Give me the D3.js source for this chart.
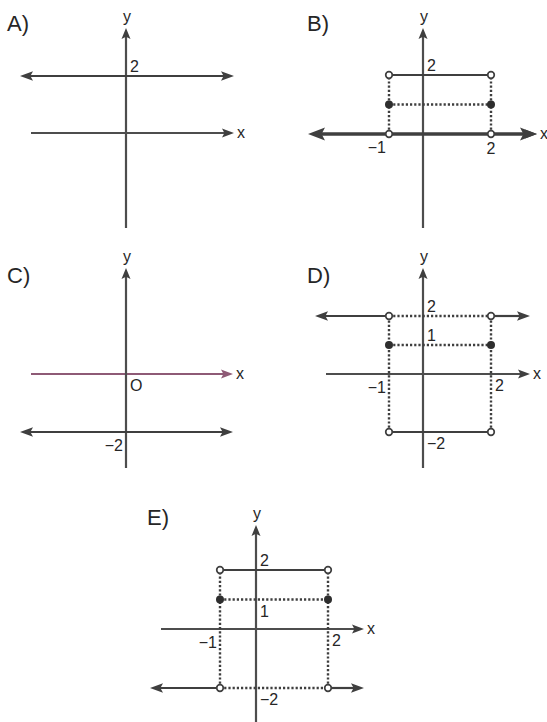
<!DOCTYPE html>
<html>
<head>
<meta charset="utf-8">
<script src="https://cdn.jsdelivr.net/npm/d3@7"></script>
<style>
  body { margin: 0; background: #fff; }
  text { font-family: "Liberation Sans", Arial, sans-serif; fill: #262626; }
</style>
</head>
<body>
<svg id="chart" width="547" height="722"></svg>
<script>
///////  data (units of each small graph) ///////

var panelNames = ["A)", "B)", "C)", "D)", "E)"];

// segments [x1, y1, x2, y2]; +-Infinity runs to the edge and gets an arrow
var solidA = [[-Infinity, 2, Infinity, 2]];
var solidB = [[-1, 2, 2, 2]];
var solidC = [[-Infinity, -2, Infinity, -2]];
var solidD = [[-Infinity, 2, -1, 2], [2, 2, Infinity, 2], [-1, -2, 2, -2]];
var solidE = [[-1, 2, 2, 2], [-Infinity, -2, -1, -2], [2, -2, Infinity, -2]];

var boldB = [[-Infinity, 0, Infinity, 0]];

var dottedB = [[-1, 1, 2, 1], [-1, 0, -1, 2], [2, 0, 2, 2]];
var dottedD = [[-1, 2, 2, 2], [-1, 1, 2, 1], [-1, -2, -1, 2], [2, -2, 2, 2]];
var dottedE = [[-1, 1, 2, 1], [-1, -2, 2, -2], [-1, -2, -1, 2], [2, -2, 2, 2]];

var openB = [[-1, 2], [2, 2], [-1, 0], [2, 0]];
var openD = [[-1, 2], [2, 2], [-1, -2], [2, -2]];
var openE = [[-1, 2], [2, 2], [-1, -2], [2, -2]];

var filledB = [[-1, 1], [2, 1]];
var filledD = [[-1, 1], [2, 1]];
var filledE = [[-1, 1], [2, 1]];

// tick labels [text, x, y, side]
var ticksA = [["2", 0, 2, "ne"]];
var ticksB = [["2", 0, 2, "ne"], ["\u22121", -1, 0, "sw"], ["2", 2, 0, "s"]];
var ticksC = [["O", 0, 0, "se"], ["\u22122", 0, -2, "sw"]];
var ticksD = [["2", 0, 2, "ne"], ["1", 0, 1, "ne"], ["\u22121", -1, 0, "sw"], ["2", 2, 0, "se"], ["\u22122", 0, -2, "se"]];
var ticksE = [["2", 0, 2, "ne"], ["1", 0, 1, "se"], ["\u22121", -1, 0, "sw"], ["2", 2, 0, "se"], ["\u22122", 0, -2, "se"]];

///////  layout ///////

var panels = [
  {name: panelNames[0], lx: 7, ly: 31, ox: 126, oy: 133, ux: 34, uy: 28.5, left: 20, right: 234, top: 28, bottom: 228,
   solid: solidA, bold: [], dotted: [], open: [], filled: [], ticks: ticksA, axisColor: null},
  {name: panelNames[1], lx: 307, ly: 31, ox: 423, oy: 134, ux: 34, uy: 29.5, left: 308, right: 537, top: 28, bottom: 228,
   solid: solidB, bold: boldB, dotted: dottedB, open: openB, filled: filledB, ticks: ticksB, axisColor: null},
  {name: panelNames[2], lx: 7, ly: 283, ox: 126, oy: 374, ux: 34, uy: 29, left: 20, right: 233, top: 268, bottom: 468,
   solid: solidC, bold: [], dotted: [], open: [], filled: [], ticks: ticksC, axisColor: "#8e5a76"},
  {name: panelNames[3], lx: 307, ly: 283, ox: 423, oy: 374, ux: 34, uy: 29, left: 315, right: 530, top: 268, bottom: 468,
   solid: solidD, bold: [], dotted: dottedD, open: openD, filled: filledD, ticks: ticksD, axisColor: null},
  {name: panelNames[4], lx: 147, ly: 525, ox: 256, oy: 629, ux: 36, uy: 29.5, left: 150, right: 364, top: 525, bottom: 730,
   solid: solidE, bold: [], dotted: dottedE, open: openE, filled: filledE, ticks: ticksE, axisColor: null}
];

var ink = "#3f3f3f";
var axisInk = "#4d4d4d";
var svg = d3.select("#chart");

// filled triangle with its tip at (x, y) pointing along (dx, dy)
function arrow(g, x, y, dx, dy, len, half, color) {
  var px = -dy, py = dx;
  var pts = [[x, y],
    [x - dx * len + px * half, y - dy * len + py * half],
    [x - dx * len * 0.8, y - dy * len * 0.8],
    [x - dx * len - px * half, y - dy * len - py * half]];
  g.append("polygon")
    .attr("points", pts.map(function(p) { return p.join(","); }).join(" "))
    .attr("fill", color);
}

var tickOffset = {
  ne: {dx: 4, dy: -4, anchor: "start"},
  se: {dx: 4, dy: 17, anchor: "start"},
  sw: {dx: -3, dy: 19, anchor: "end"},
  s:  {dx: 0, dy: 20, anchor: "middle"}
};

panels.forEach(function(p) {
  var x = d3.scaleLinear().domain([0, 1]).range([p.ox, p.ox + p.ux]);
  var y = d3.scaleLinear().domain([0, 1]).range([p.oy, p.oy - p.uy]);
  var px = function(v) { return v === -Infinity ? p.left : v === Infinity ? p.right : x(v); };
  var axc = p.axisColor || axisInk;

  var g = svg.append("g");

  g.append("text")
    .attr("x", p.lx).attr("y", p.ly)
    .attr("font-size", "22px")
    .text(p.name);

  // x axis
  g.append("line")
    .attr("x1", p.left + 11).attr("x2", p.right - 8)
    .attr("y1", p.oy).attr("y2", p.oy)
    .attr("stroke", axc).attr("stroke-width", 2.2);
  arrow(g, p.right, p.oy, 1, 0, 12, 4.5, p.axisColor || ink);
  g.append("text")
    .attr("x", p.right + 3).attr("y", p.oy + 5)
    .attr("font-size", "16px")
    .text("x");

  // y axis
  g.append("line")
    .attr("x1", p.ox).attr("x2", p.ox)
    .attr("y1", p.top + 8).attr("y2", p.bottom)
    .attr("stroke", axisInk).attr("stroke-width", 2.2);
  arrow(g, p.ox, p.top, 0, -1, 11, 4.5, ink);
  g.append("text")
    .attr("x", p.ox + 1).attr("y", p.top - 6)
    .attr("text-anchor", "middle")
    .attr("font-size", "16px")
    .text("y");

  // dotted guides
  g.selectAll(null).data(p.dotted).enter().append("line")
    .attr("x1", function(d) { return px(d[0]); })
    .attr("y1", function(d) { return y(d[1]); })
    .attr("x2", function(d) { return px(d[2]); })
    .attr("y2", function(d) { return y(d[3]); })
    .attr("stroke", ink).attr("stroke-width", 2.4)
    .attr("stroke-dasharray", "2.2,2");

  // solid pieces of the graph
  function drawSolid(data, w, len, half) {
    data.forEach(function(d) {
      var x1 = px(d[0]), x2 = px(d[2]), y1 = y(d[1]), y2 = y(d[3]);
      var a = d[0] === -Infinity ? len - 3 : 0, b = d[2] === Infinity ? len - 3 : 0;
      g.append("line")
        .attr("x1", x1 + a).attr("y1", y1)
        .attr("x2", x2 - b).attr("y2", y2)
        .attr("stroke", ink).attr("stroke-width", w);
      if (d[0] === -Infinity) arrow(g, x1, y1, -1, 0, len, half, ink);
      if (d[2] === Infinity) arrow(g, x2, y2, 1, 0, len, half, ink);
    });
  }
  drawSolid(p.solid, 2.2, 13, 4.8);
  drawSolid(p.bold, 3.5, 17, 6.5);

  // end points
  g.selectAll(null).data(p.open).enter().append("circle")
    .attr("cx", function(d) { return x(d[0]); })
    .attr("cy", function(d) { return y(d[1]); })
    .attr("r", 3.3)
    .attr("fill", "#fff").attr("stroke", ink).attr("stroke-width", 1.7);

  g.selectAll(null).data(p.filled).enter().append("circle")
    .attr("cx", function(d) { return x(d[0]); })
    .attr("cy", function(d) { return y(d[1]); })
    .attr("r", 4)
    .attr("fill", "#2e2e2e");

  // tick labels
  g.selectAll(null).data(p.ticks).enter().append("text")
    .attr("x", function(d) { return x(d[1]) + tickOffset[d[3]].dx; })
    .attr("y", function(d) { return y(d[2]) + tickOffset[d[3]].dy; })
    .attr("text-anchor", function(d) { return tickOffset[d[3]].anchor; })
    .attr("font-size", "16px")
    .text(function(d) { return d[0]; });
});
</script>
</body>
</html>
